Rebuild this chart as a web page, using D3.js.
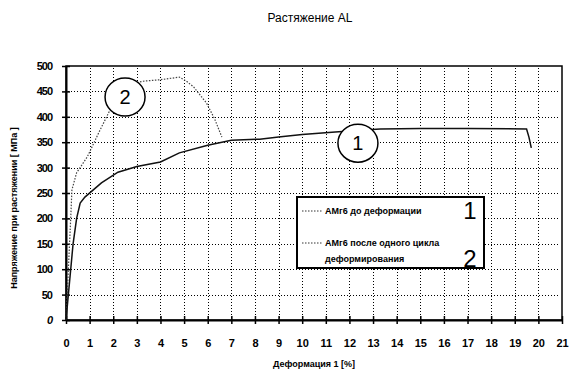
<!DOCTYPE html>
<html>
<head>
<meta charset="utf-8">
<script src="https://cdn.jsdelivr.net/npm/d3@7"></script>
<style>
  body { margin: 0; background: #fff; }
  svg text { font-family: "Liberation Sans", Arial, sans-serif; }
</style>
</head>
<body>
<svg id="chart" width="569" height="372"></svg>
<script>
// Данные ------------------------------------------------------------
const xTicks = d3.range(0, 22);
const yTicks = d3.range(0, 501, 50);

// Кривая 1: АМг6 до деформации
const curve1X = [0, 0.1, 0.2, 0.3, 0.45, 0.6, 0.8, 1.5, 2.2, 3, 4, 4.8, 6, 7, 8.2, 9, 10, 11.4, 12, 13.3, 15, 17, 19.5, 19.6, 19.7];
const curve1Y = [0, 50, 100, 150, 200, 230, 242, 270, 291, 302, 311, 329, 344, 354, 356, 360, 365, 370, 372, 376, 377, 377, 376, 360, 339];

// Кривая 2: АМг6 после одного цикла деформирования
const curve2X = [0, 0.05, 0.1, 0.15, 0.2, 0.25, 0.45, 0.67, 0.9, 1.4, 1.86, 2.4, 3.0, 3.25, 4.0, 4.8, 5.1, 5.4, 5.95, 6.3, 6.6];
const curve2Y = [0, 50, 100, 150, 200, 256, 290, 305, 321, 370, 413, 445, 467, 470, 473, 478, 470, 459, 427, 395, 360];

// Метки в кружках
const markLabels = ["1", "2"];
const markX = [12.36, 2.5];
const markY = [348, 439];

const legendLabels = [["АМг6 до деформации"], ["АМг6 после одного цикла", "деформирования"]];
// ------------------------------------------------------------

const svg = d3.select("#chart");
const m = { left: 66, right: 562, top: 66, bottom: 320 };

const x = d3.scaleLinear().domain([0, 21]).range([m.left, m.right]);
const y = d3.scaleLinear().domain([0, 500]).range([m.bottom, m.top]);

// Заголовок
svg.append("text")
    .attr("x", 310).attr("y", 22)
    .attr("text-anchor", "middle")
    .attr("font-size", 12)
    .text("Растяжение AL");

// Рамка
svg.append("rect")
    .attr("x", m.left).attr("y", m.top)
    .attr("width", m.right - m.left).attr("height", m.bottom - m.top)
    .attr("fill", "none").attr("stroke", "#000").attr("stroke-width", 1.5);

// Оси
const xAxis = d3.axisBottom(x).tickValues(xTicks).tickSize(0).tickPadding(19);
const gx = svg.append("g").attr("transform", `translate(0,${m.bottom})`).call(xAxis);
gx.select(".domain").attr("stroke-width", 2);
gx.selectAll("text").attr("font-size", 11).attr("font-weight", "bold").attr("fill", "#000");
gx.selectAll(".tick").append("line").attr("y1", -4).attr("y2", 4).attr("stroke", "#000").attr("stroke-width", 1.5);

const yAxis = d3.axisLeft(y).tickValues(yTicks).tickSize(0).tickPadding(14);
const gy = svg.append("g").attr("transform", `translate(${m.left},0)`).call(yAxis);
gy.select(".domain").attr("stroke-width", 2);
gy.selectAll("text").attr("font-size", 11).attr("font-weight", "bold").attr("fill", "#000")
    .attr("letter-spacing", -1)
    .attr("font-style", d => d === 0 ? "italic" : "normal");
gy.selectAll(".tick").append("line").attr("x1", -4).attr("x2", 4).attr("stroke", "#000").attr("stroke-width", 1.5);

// Сетка (поверх рамки и осей)
const grid = svg.append("g")
    .attr("stroke", "#000")
    .attr("stroke-width", 1)
    .attr("stroke-dasharray", "1 2")
    .attr("shape-rendering", "crispEdges");
grid.selectAll("line.vx").data(xTicks.slice(1, -1)).join("line")
    .attr("class", "vx")
    .attr("x1", d => Math.round(x(d)) + 0.5).attr("x2", d => Math.round(x(d)) + 0.5)
    .attr("y1", m.top + 2).attr("y2", m.bottom - 2);
grid.selectAll("line.hy").data(yTicks.slice(1, -1)).join("line")
    .attr("class", "hy")
    .attr("x1", m.left + 2).attr("x2", m.right - 2)
    .attr("y1", d => Math.round(y(d)) + 0.5).attr("y2", d => Math.round(y(d)) + 0.5);

// Подписи осей
svg.append("text")
    .attr("x", 314).attr("y", 367)
    .attr("text-anchor", "middle")
    .attr("font-size", 9).attr("font-weight", "bold")
    .text("Деформация 1 [%]");

svg.append("text")
    .attr("transform", "translate(17,208) rotate(-90)")
    .attr("text-anchor", "middle")
    .attr("font-size", 9).attr("font-weight", "bold")
    .text("Напряжение при растяжении [ МПа ]");

// Кривые
const line = d3.line().x(d => x(d[0])).y(d => y(d[1]));

svg.append("path")
    .datum(d3.zip(curve2X, curve2Y))
    .attr("d", line)
    .attr("fill", "none")
    .attr("stroke", "#444")
    .attr("stroke-width", 1.2)
    .attr("stroke-dasharray", "1.5,1.5");

svg.append("path")
    .datum(d3.zip(curve1X, curve1Y))
    .attr("d", line)
    .attr("fill", "none")
    .attr("stroke", "#111")
    .attr("stroke-width", 1.5);

// Кружки с номерами
const marks = svg.selectAll(".mark").data(markLabels).join("g")
    .attr("transform", (d, i) => `translate(${x(markX[i])},${y(markY[i])})`);
marks.append("ellipse")
    .attr("rx", 20).attr("ry", 19)
    .attr("fill", "#fff").attr("stroke", "#000").attr("stroke-width", 1.5);
marks.append("text")
    .attr("text-anchor", "middle").attr("dy", "0.36em")
    .attr("font-size", 20)
    .text(d => d);

// Легенда
const legend = svg.append("g");
legend.append("rect")
    .attr("x", 297).attr("y", 197).attr("width", 187).attr("height", 71)
    .attr("fill", "#fff").attr("stroke", "#000").attr("stroke-width", 2);

const rowsY = [211, 243];
legendLabels.forEach((lines, i) => {
    legend.append("line")
        .attr("x1", 302).attr("x2", 323)
        .attr("y1", rowsY[i]).attr("y2", rowsY[i])
        .attr("stroke", "#333").attr("stroke-dasharray", "1.5,1.5");
    lines.forEach((t, j) => {
        legend.append("text")
            .attr("x", 325).attr("y", rowsY[i] + 3 + j * 16)
            .attr("font-size", 9).attr("font-weight", "bold")
            .text(t);
    });
    legend.append("text")
        .attr("x", 470).attr("y", rowsY[i] + 8 + i * 16)
        .attr("text-anchor", "middle")
        .attr("font-family", "Liberation Serif, serif")
        .attr("font-size", 24)
        .text(markLabels[i]);
});
</script>
</body>
</html>
